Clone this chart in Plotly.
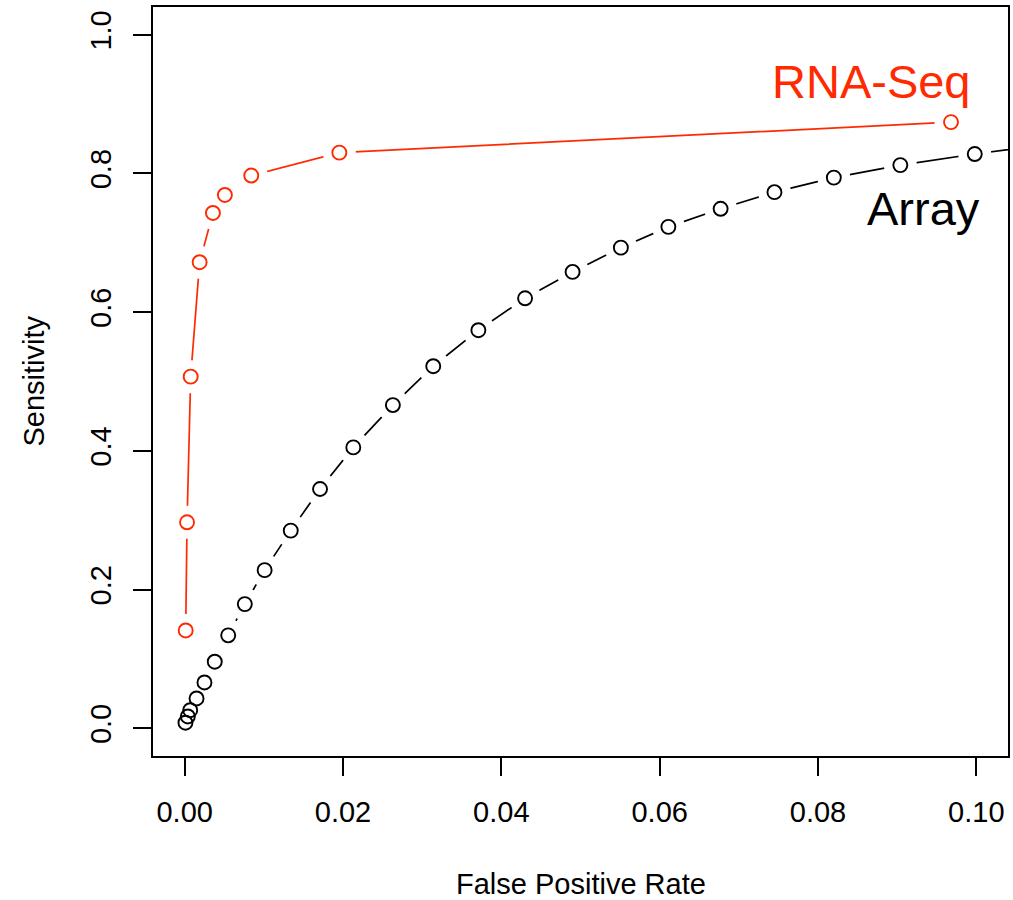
import plotly.graph_objects as go

# ROC points: false positive rate vs. sensitivity
rna_fpr = [0.00013, 0.00030, 0.00076, 0.00189, 0.00357, 0.00508, 0.00841, 0.01954, 0.0968]
rna_sens = [0.141, 0.297, 0.507, 0.672, 0.743, 0.769, 0.797, 0.830, 0.874]

array_fpr = [0.0001, 0.0004, 0.0007, 0.0015, 0.0025, 0.0038, 0.0055, 0.0076, 0.0101,
             0.0134, 0.0171, 0.0213, 0.0263, 0.0314, 0.0371, 0.0430, 0.0490, 0.0551,
             0.0611, 0.0677, 0.0745, 0.0820, 0.0904, 0.0998, 0.1103]
array_sens = [0.008, 0.017, 0.026, 0.043, 0.066, 0.096, 0.134, 0.179, 0.228,
              0.285, 0.345, 0.405, 0.466, 0.522, 0.574, 0.620, 0.658, 0.693,
              0.723, 0.749, 0.773, 0.794, 0.812, 0.828, 0.844]

x_ticks = [0.00, 0.02, 0.04, 0.06, 0.08, 0.10]
x_tick_text = ["0.00", "0.02", "0.04", "0.06", "0.08", "0.10"]
y_ticks = [0.0, 0.2, 0.4, 0.6, 0.8, 1.0]
y_tick_text = ["0.0", "0.2", "0.4", "0.6", "0.8", "1.0"]

RED = "#FF2A00"
FONT = "Liberation Sans, Arial, Helvetica, sans-serif"

series = [(array_fpr, array_sens, "black"), (rna_fpr, rna_sens, RED)]

fig = go.Figure()

# connecting lines
for xs, ys, col in series:
    fig.add_trace(go.Scatter(x=xs, y=ys, mode="lines",
                             line=dict(color=col, width=1.7),
                             hoverinfo="skip", showlegend=False))

# white discs leave a gap in the line around each point ("both" style)
for xs, ys, col in series:
    fig.add_trace(go.Scatter(x=xs, y=ys, mode="markers",
                             marker=dict(symbol="circle", size=33, color="white",
                                         line=dict(width=0)),
                             hoverinfo="skip", showlegend=False))

# open circle markers
for xs, ys, col in series:
    fig.add_trace(go.Scatter(x=xs, y=ys, mode="markers",
                             marker=dict(symbol="circle-open", size=14, color=col,
                                         line=dict(width=1.9)),
                             showlegend=False))

fig.add_annotation(x=0.0867, y=0.933, xref="x", yref="y", text="RNA-Seq",
                   showarrow=False, font=dict(family=FONT, size=47, color=RED),
                   xanchor="center", yanchor="middle")
fig.add_annotation(x=0.0933, y=0.749, xref="x", yref="y", text="Array",
                   showarrow=False, font=dict(family=FONT, size=47, color="black"),
                   xanchor="center", yanchor="middle")

# axis titles
fig.add_annotation(x=0.5, y=0, xref="paper", yref="paper", text="False Positive Rate",
                   showarrow=False, font=dict(family=FONT, size=29, color="black"),
                   xanchor="center", yanchor="middle", yshift=-128)
fig.add_annotation(x=0, y=0.5, xref="paper", yref="paper", text="Sensitivity",
                   showarrow=False, font=dict(family=FONT, size=29, color="black"),
                   textangle=-90, xanchor="center", yanchor="middle", xshift=-120)

axis_common = dict(showgrid=False, zeroline=False, showline=True, mirror=True,
                   linecolor="black", linewidth=1.6, ticks="outside", ticklen=18,
                   tickwidth=1.6, tickcolor="black",
                   tickfont=dict(family=FONT, size=29, color="black"))

fig.update_xaxes(range=[-0.004, 0.104], tickmode="array", tickvals=x_ticks,
                 ticktext=x_tick_text, ticklabelstandoff=11, **axis_common)
fig.update_yaxes(range=[-0.04, 1.04], tickmode="array", tickvals=y_ticks,
                 ticktext=y_tick_text, tickangle=-90, ticklabelstandoff=11,
                 **axis_common)

fig.update_layout(width=1013, height=900, autosize=False,
                  margin=dict(l=153, r=3, t=7, b=144),
                  plot_bgcolor="white", paper_bgcolor="white",
                  font=dict(family=FONT))

fig.write_html("out.html")
